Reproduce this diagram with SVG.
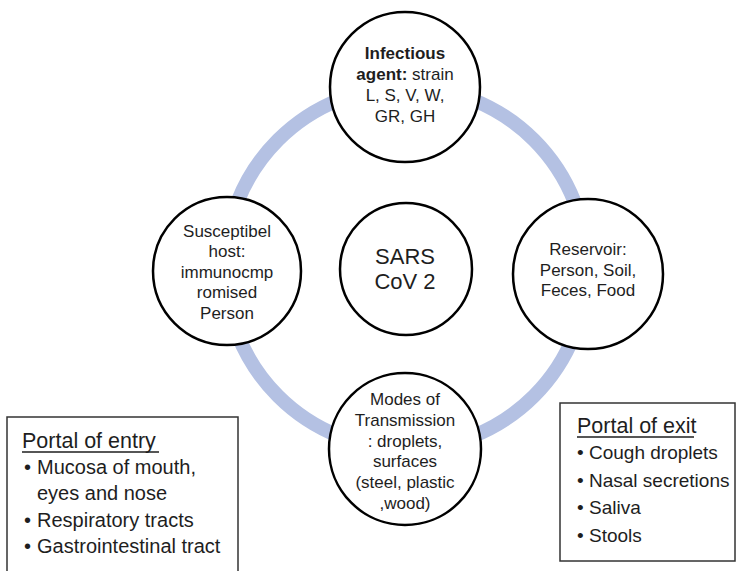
<svg xmlns="http://www.w3.org/2000/svg" width="736" height="571" viewBox="0 0 736 571">
<style>
text{font-family:"Liberation Sans",Arial,sans-serif;fill:#1e1e1e}
.c{font-size:17px;text-anchor:middle}
.b{font-weight:bold}
.node{fill:#fff;stroke:#000;stroke-width:2.5}
.box{fill:#fff;stroke:#333;stroke-width:1.5}
.t{font-size:21.5px}
.l{font-size:20px}
.r{font-size:19px}
.u{stroke:#1e1e1e;stroke-width:1.5}
</style>
<rect width="736" height="571" fill="#fff"/>
<g id="connectors">
<circle cx="406" cy="268" r="181" fill="none" stroke="#B4C1E3" stroke-width="14"/>
</g>
<g id="center">
<circle class="node" cx="406" cy="269" r="66"/>
<text class="c" x="405" y="264" style="font-size:22px">SARS</text>
<text class="c" x="405" y="289" style="font-size:22px">CoV 2</text>
</g>
<g id="agent">
<circle class="node" cx="405" cy="87" r="75"/>
<text class="c b" x="405" y="59">Infectious</text>
<text class="c" x="405" y="80"><tspan class="b">agent:</tspan> strain</text>
<text class="c" x="405" y="101">L, S, V, W,</text>
<text class="c" x="405" y="122">GR, GH</text>
</g>
<g id="host">
<circle class="node" cx="227" cy="271" r="74"/>
<text class="c" x="227" y="237">Susceptibel</text>
<text class="c" x="227" y="257">host:</text>
<text class="c" x="227" y="278">immunocmp</text>
<text class="c" x="227" y="298">romised</text>
<text class="c" x="227" y="319">Person</text>
</g>
<g id="reservoir">
<circle class="node" cx="588" cy="274" r="75"/>
<text class="c" x="588" y="255">Reservoir:</text>
<text class="c" x="588" y="276">Person, Soil,</text>
<text class="c" x="588" y="296">Feces, Food</text>
</g>
<g id="transmission">
<circle class="node" cx="405" cy="449" r="76"/>
<text class="c" x="405" y="405">Modes of</text>
<text class="c" x="405" y="426">Transmission</text>
<text class="c" x="405" y="447">: droplets,</text>
<text class="c" x="405" y="467">surfaces</text>
<text class="c" x="405" y="488">(steel, plastic</text>
<text class="c" x="405" y="509">,wood)</text>
</g>
<g id="entry">
<path class="box" d="M7,572 V417 H238 V572"/>
<text class="t" x="22" y="448">Portal of entry</text>
<line class="u" x1="22" y1="452" x2="159" y2="452"/>
<text class="l" x="24" y="474">•</text><text class="l" x="37" y="474">Mucosa of mouth,</text>
<text class="l" x="37" y="500">eyes and nose</text>
<text class="l" x="24" y="527">•</text><text class="l" x="37" y="527">Respiratory tracts</text>
<text class="l" x="24" y="553">•</text><text class="l" x="37" y="553">Gastrointestinal tract</text>
</g>
<g id="exit">
<rect class="box" x="560" y="403" width="175" height="158"/>
<text class="t" x="577" y="433">Portal of exit</text>
<line class="u" x1="577" y1="437" x2="694" y2="437"/>
<text class="r" x="577" y="459">•</text><text class="r" x="589" y="459">Cough droplets</text>
<text class="r" x="577" y="487">•</text><text class="r" x="589" y="487">Nasal secretions</text>
<text class="r" x="577" y="514">•</text><text class="r" x="589" y="514">Saliva</text>
<text class="r" x="577" y="542">•</text><text class="r" x="589" y="542">Stools</text>
</g>
</svg>
